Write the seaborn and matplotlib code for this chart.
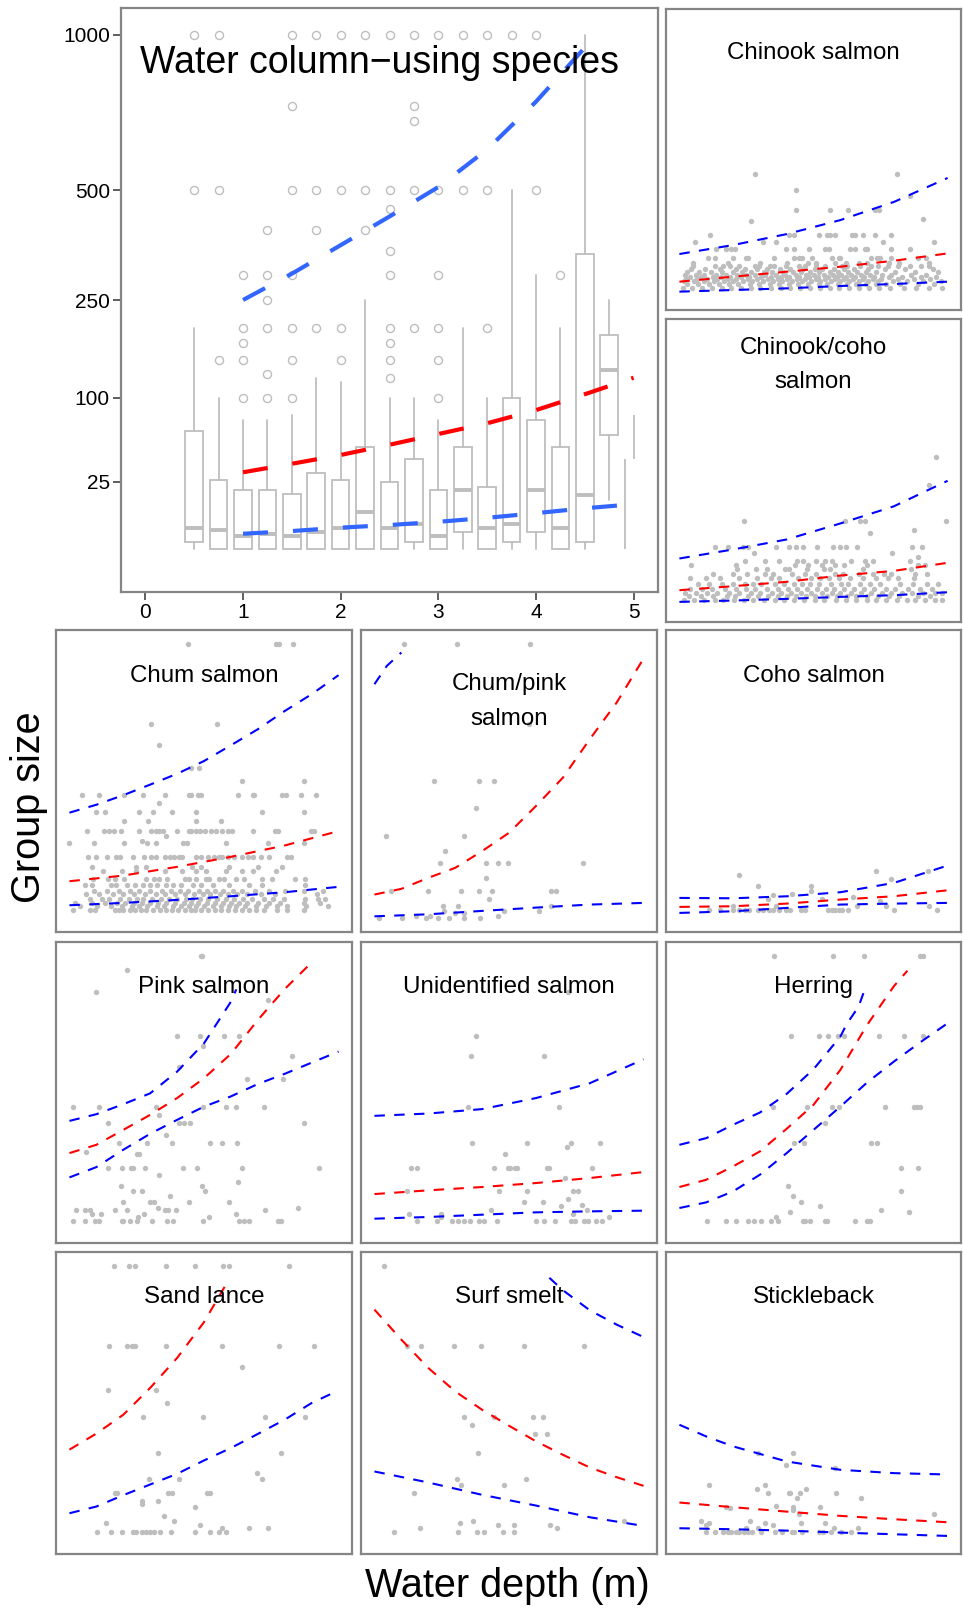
import numpy as np
import pandas as pd
import matplotlib
matplotlib.use("Agg")
import matplotlib.pyplot as plt
import seaborn as sns

# ---------------------------------------------------------------- data
# Pooled box plots (water column-using species), one box per 0.25 m depth bin
box_depth = [0.5, 0.75, 1.0, 1.25, 1.5, 1.75, 2.0, 2.25, 2.5, 2.75,
             3.0, 3.25, 3.5, 3.75, 4.0, 4.25, 4.5, 4.75]
box_low = [1, 1, 1, 1, 1, 1, 1, 1, 1, 1, 1, 1, 1, 1, 1, 1, 1, 15]
box_q1 = [2, 1, 1, 1, 1, 1, 1, 1, 1, 2, 1, 4, 1, 2, 4, 1, 2, 60]
box_med = [5, 4.5, 3, 3.5, 3, 4, 5, 10, 5, 6, 3, 20, 5, 6, 20, 5, 17.5, 135]
box_q3 = [64, 26, 20, 20, 18, 30, 26, 50, 25, 40, 20, 50, 22, 100, 75, 50, 345, 188]
box_high = [200, 100, 75, 75, 80, 125, 120, 250, 100, 100, 75, 200, 100, 500, 300, 200, 1000, 250]
box_out = [
    [500, 1000],
    [150, 500, 1000],
    [100, 150, 175, 200, 300],
    [100, 130, 200, 250, 300, 400],
    [100, 150, 200, 300, 500, 750, 1000],
    [200, 400, 500, 1000],
    [150, 200, 500, 1000],
    [400, 500, 1000],
    [125, 150, 175, 200, 300, 350, 450, 500, 1000],
    [200, 500, 700, 750, 1000],
    [100, 150, 200, 300, 500, 1000],
    [500, 1000],
    [200, 500, 1000],
    [1000],
    [500, 1000],
    [300],
    [],
    [],
]
# Deepest (5 m) bin: only whisker segments are drawn
last_bin_depth = [4.91, 5.0]
last_bin_from = [1, 40]
last_bin_to = [40, 80]

# Pooled model fit and bounds
pooled_hi = ([1, 1.5, 2, 2.5, 3, 3.5, 4, 4.5], [250, 302, 364, 432, 508, 614, 763, 951])
pooled_mid = ([1, 1.5, 2, 2.5, 3, 3.5, 4, 4.5, 5], [30.8, 36.7, 43.3, 51.7, 61.3, 71.7, 85.6, 104, 125])
pooled_lo = ([1, 1.5, 2, 2.5, 3, 3.5, 4, 4.5, 5], [3.57, 4.2, 5.07, 5.8, 6.76, 8.05, 9.7, 11.6, 13.3])

# Species observations: (group size, [water depths])
chinook_pts = [
    (200, [1.40, 4.06]), (150, [2.17]), (135, [4.29]),
    (100, [2.17, 2.81, 3.15, 3.65, 3.72]), (80, [4.55]), (75, [1.34]),
    (50, [0.57, 2.04, 2.14, 2.60, 2.75, 2.81, 2.91, 3.21, 3.28, 3.43, 3.65, 3.95]),
    (40, [0.29, 1.56, 1.80, 3.80, 4.74]),
    (30, [0.69, 0.87, 0.97, 1.03, 1.98, 2.14, 2.41, 2.71, 2.78, 3.18, 3.28, 3.46, 3.49, 3.95, 4.30]),
    (20, [0.54, 0.66, 1.00, 1.24, 1.27, 1.77, 2.14, 2.23, 2.29, 2.48, 2.84, 2.97, 3.00, 3.58, 3.68, 3.74, 3.95, 4.45, 4.60]),
    (15, [0.25, 0.90, 1.50, 2.00, 2.40, 2.55, 2.90, 3.10, 3.35, 3.50, 3.90, 4.10, 4.65]),
    (12, [0.26, 0.66, 0.82, 0.94, 1.12, 1.40, 1.49, 1.68, 1.77, 1.98, 2.23, 2.35, 2.54, 2.72, 3.03, 3.12, 3.37, 3.58, 3.71, 3.89, 4.08, 4.29, 4.51, 4.66]),
    (10, [0.21, 0.48, 0.75, 1.05, 1.22, 1.45, 1.63, 1.88, 2.07, 2.31, 2.52, 2.66, 2.88, 3.07, 3.25, 3.52, 3.84, 4.20, 4.72]),
    (8, [0.15, 0.37, 0.58, 0.80, 0.99, 1.16, 1.33, 1.57, 1.72, 1.93, 2.12, 2.27, 2.43, 2.61, 2.80, 2.95, 3.14, 3.31, 3.47, 3.66, 4.02, 4.40, 4.82]),
    (6, [0.10, 0.31, 0.46, 0.69, 0.86, 1.08, 1.25, 1.41, 1.60, 1.81, 1.97, 2.18, 2.36, 2.50, 2.70, 2.86, 3.02, 3.20, 3.39, 3.55, 3.78, 3.95, 4.32, 4.60]),
    (5, [0.20, 0.40, 0.62, 0.78, 0.95, 1.14, 1.30, 1.52, 1.70, 1.90, 2.05, 2.23, 2.41, 2.58, 2.77, 2.93, 3.10, 3.28, 3.44, 3.62, 3.90, 4.15, 4.50, 4.78]),
    (4, [0.12, 0.33, 0.52, 0.71, 0.90, 1.06, 1.27, 1.44, 1.66, 1.83, 2.01, 2.20, 2.34, 2.55, 2.72, 2.90, 3.06, 3.23, 3.42, 3.60, 3.75, 4.08, 4.38, 4.68]),
    (3, [0.08, 0.27, 0.45, 0.64, 0.83, 1.00, 1.19, 1.36, 1.55, 1.74, 1.92, 2.10, 2.29, 2.46, 2.63, 2.82, 2.99, 3.17, 3.35, 3.52, 3.70, 3.98, 4.25, 4.55, 4.88]),
    (2, [0.15, 0.35, 0.55, 0.74, 0.92, 1.10, 1.31, 1.48, 1.68, 1.86, 2.04, 2.22, 2.40, 2.60, 2.76, 2.95, 3.13, 3.30, 3.48, 3.67, 3.86, 4.12, 4.45, 4.75]),
    (1, [0.06, 0.24, 0.42, 0.60, 0.79, 0.96, 1.15, 1.34, 1.50, 1.70, 1.89, 2.07, 2.25, 2.44, 2.62, 2.80, 2.98, 3.16, 3.34, 3.53, 3.72, 3.92, 4.18, 4.42, 4.65, 4.90]),
]
chinook_depth = [0, 1, 2, 3, 4, 5]
chinook_hi = [23.9, 35.1, 51.7, 77.6, 119, 187]
chinook_mid = [2.86, 5.15, 8.1, 11.7, 16.9, 24.6]
chinook_lo = [0.29, 0.53, 0.85, 1.42, 2.03, 2.86]

chincoho_pts = [
    (300, [4.78]), (200, [4.66]), (100, [1.21, 3.08, 3.37, 3.46, 4.97]),
    (80, [4.38]), (75, [3.55]),
    (50, [0.66, 0.91, 1.18, 1.27, 1.80, 2.04, 2.17, 2.31, 2.57, 2.86, 3.00, 3.11, 3.31, 4.34, 4.53]),
    (40, [1.39, 3.97]), (35, [4.45]),
    (30, [1.23, 1.60, 1.85, 2.20, 2.30, 2.54, 2.72, 2.84, 3.20, 3.46, 3.60, 4.30]),
    (25, [0.22, 1.06, 2.16, 2.40, 2.66, 2.90, 3.06, 3.49, 4.45, 4.57]),
    (20, [1.08, 1.43, 1.64, 1.97, 2.05, 2.37, 2.70, 2.81, 3.43, 4.32]),
    (15, [0.63, 1.00, 1.26, 1.60, 1.75, 2.10, 2.35, 2.55, 2.90, 3.05, 3.35, 3.60, 3.82, 3.95, 4.40, 4.62]),
    (12, [0.20, 0.50, 0.75, 1.12, 1.45, 1.70, 1.86, 2.22, 2.46, 2.63, 2.79, 2.97, 3.18, 3.42, 3.67, 3.88, 4.07, 4.38]),
    (8, [0.35, 0.55, 0.80, 1.00, 1.22, 1.37, 1.52, 1.78, 1.95, 2.13, 2.28, 2.44, 2.60, 2.82, 3.02, 3.15, 3.36, 3.55, 3.74, 4.12, 4.35, 4.62, 4.83]),
    (5, [0.20, 0.42, 0.60, 0.85, 1.06, 1.25, 1.41, 1.63, 1.84, 2.02, 2.20, 2.38, 2.57, 2.74, 2.88, 3.07, 3.25, 3.44, 3.62, 3.86, 4.02, 4.26, 4.48, 4.70]),
    (3, [0.10, 0.30, 0.52, 0.70, 0.93, 1.12, 1.33, 1.50, 1.72, 1.90, 2.08, 2.27, 2.45, 2.66, 2.85, 3.00, 3.20, 3.38, 3.57, 3.77, 3.95, 4.15, 4.33, 4.55, 4.76, 4.90]),
    (2, [0.18, 0.40, 0.62, 0.88, 1.04, 1.28, 1.46, 1.66, 1.83, 2.00, 2.18, 2.36, 2.52, 2.75, 2.93, 3.12, 3.30, 3.50, 3.70, 3.90, 4.10, 4.45, 4.68]),
    (1, [0.08, 0.27, 0.45, 0.66, 0.82, 1.02, 1.20, 1.38, 1.57, 1.78, 1.95, 2.14, 2.33, 2.52, 2.70, 2.92, 3.10, 3.30, 3.50, 3.66, 3.85, 4.05, 4.24, 4.40, 4.58, 4.76, 4.90]),
]
chincoho_depth = [0, 1, 2, 3, 4, 5]
chincoho_hi = [32.6, 45.5, 62.3, 94.7, 137, 214]
chincoho_mid = [4.28, 6.4, 9.2, 14.1, 18.4, 27.2]
chincoho_lo = [0.53, 0.78, 1.15, 1.70, 2.23, 3.38]

chum_pts = [
    (1000, [2.20, 3.83, 3.89, 4.15]), (500, [1.52, 2.75]), (400, [1.67]),
    (300, [2.26, 2.41]), (250, [3.20, 4.35]),
    (200, [0.23, 0.54, 1.01, 1.37, 1.77, 2.22, 2.26, 2.38, 2.44, 3.14, 3.41, 3.43, 3.95, 4.03, 4.31, 4.59]),
    (175, [1.67]),
    (150, [0.50, 0.66, 1.29, 1.55, 1.90, 2.35, 3.57, 4.35]),
    (125, [1.01, 1.46, 2.35, 2.81]),
    (100, [0.33, 0.64, 0.74, 0.83, 0.95, 1.29, 1.51, 1.60, 1.67, 1.74, 2.00, 2.22, 2.26, 2.35, 2.43, 2.52, 2.63, 2.72, 2.83, 2.94, 3.02, 3.41, 3.82, 3.88, 4.48, 4.54]),
    (90, [1.79]), (80, [1.34]),
    (75, [0.00, 0.46, 1.01, 1.44, 1.60, 2.11, 2.18, 2.91, 3.68, 4.35]),
    (50, [0.35, 0.50, 0.70, 0.86, 0.94, 1.18, 1.38, 1.52, 1.61, 1.77, 1.86, 1.95, 2.04, 2.09, 2.35, 2.44, 2.57, 2.68, 2.78, 2.84, 2.94, 3.06, 3.21, 3.32, 3.41, 3.56, 3.71, 4.05, 4.11]),
    (35, [0.41, 1.23, 1.43, 2.28, 2.44, 2.97, 3.51, 3.95]),
    (30, [0.63, 0.97, 1.23, 1.77, 2.09, 2.35, 2.54, 2.91, 3.21, 3.41, 3.83]),
    (20, [0.44, 0.72, 0.84, 1.01, 1.43, 1.58, 1.67, 1.81, 2.14, 2.23, 2.35, 2.54, 2.60, 2.78, 2.87, 3.09, 3.25, 3.58, 3.76, 4.20, 4.38]),
    (15, [0.29, 0.41, 0.78, 0.87, 1.07, 1.21, 1.37, 1.49, 1.63, 1.79, 1.93, 2.08, 2.29, 2.44, 2.66, 2.97, 3.33, 3.58, 4.38]),
    (10, [0.46, 0.70, 0.92, 1.12, 1.30, 1.50, 1.72, 1.88, 2.05, 2.20, 2.40, 2.56, 2.70, 2.86, 3.04, 3.20, 3.45, 3.70, 4.00, 4.35, 4.72]),
    (8, [0.30, 0.55, 0.80, 1.00, 1.20, 1.40, 1.60, 1.78, 1.97, 2.15, 2.32, 2.48, 2.62, 2.80, 2.95, 3.12, 3.30, 3.55, 3.82, 4.60]),
    (5, [0.38, 0.60, 0.74, 0.93, 1.10, 1.25, 1.36, 1.53, 1.70, 1.85, 2.00, 2.17, 2.28, 2.42, 2.58, 2.74, 2.90, 3.06, 3.22, 3.40, 3.62, 3.78, 3.98, 4.38, 4.62, 4.74]),
    (3, [0.10, 0.42, 0.66, 0.88, 1.04, 1.20, 1.34, 1.50, 1.64, 1.80, 1.96, 2.12, 2.26, 2.38, 2.55, 2.70, 2.86, 3.00, 3.15, 3.30, 3.50, 3.70, 3.92, 4.35, 4.66]),
    (2, [0.20, 0.52, 0.78, 0.98, 1.16, 1.30, 1.45, 1.62, 1.76, 1.92, 2.08, 2.22, 2.36, 2.50, 2.66, 2.82, 2.96, 3.10, 3.26, 3.46, 3.66, 3.85, 4.05, 4.40, 4.80]),
    (1, [0.06, 0.38, 0.48, 0.85, 0.92, 1.00, 1.12, 1.22, 1.33, 1.42, 1.56, 1.68, 1.80, 1.90, 2.02, 2.14, 2.25, 2.34, 2.45, 2.58, 2.70, 2.82, 2.94, 3.08, 3.20, 3.34, 3.47, 3.62, 3.85, 4.04, 4.36]),
]
chum_hi = ([0, 0.5, 1, 1.5, 2, 2.5, 3, 3.5, 4, 4.5, 5], [148, 171, 201, 237, 277, 328, 397, 474, 570, 666, 784])
chum_mid = ([0, 1, 2, 3, 4, 5], [18.2, 24.2, 35.1, 50.1, 70.3, 100.8])
chum_lo = ([0, 1, 2, 3, 4, 5], [2.25, 3.13, 4.48, 6.44, 9.0, 13.1])

chumpink_pts = [
    (1000, [0.54, 1.54, 2.89]), (500, [2.88]), (250, [1.11, 1.95, 2.22]),
    (160, [1.89]), (90, [0.21, 1.67]), (60, [1.31]),
    (40, [1.22, 2.08, 2.30, 2.49, 3.88]), (22, [2.08]),
    (10, [0.31, 0.99, 1.61, 1.95, 2.19, 3.28, 3.37]), (5, [2.12]),
    (2, [1.27, 1.55, 3.28]), (0.8, [1.30, 2.41, 3.06]), (0.4, [1.49, 1.67]),
    (0.1, [0.78, 1.03, 2.30]), (0, [0.09, 0.51, 0.95, 1.18, 1.39, 1.66, 1.97]),
]
chumpink_hi = ([0, 0.23, 0.5], [727, 845, 937])
chumpink_mid = ([0, 0.5, 1, 1.5, 2, 2.5, 3, 3.5, 4, 4.5, 5], [7.46, 11.5, 21.7, 33.7, 59.8, 96.9, 167, 262, 425, 617, 895])
chumpink_lo = ([0, 1, 2, 3, 4, 5], [0.05, 0.21, 0.72, 1.51, 2.49, 3.13])

coho_pts = [
    (30, [3.66, 4.63]), (25, [1.11]), (20, [3.94]), (14, [1.46, 2.46]),
    (10, [2.46]), (8, [2.09]), (7, [1.74]), (6, [3.23]), (5, [1.66, 2.66]),
    (4, [3.74]), (2, [1.00, 1.81, 3.32, 3.85, 4.66]),
    (1, [0.55, 0.75, 1.00, 1.11, 1.23, 1.29, 1.46, 1.55, 1.67, 1.74, 1.86, 1.98, 2.07, 2.26, 2.34, 2.77, 2.84, 2.91, 2.97, 3.03, 3.15, 4.00, 4.80]),
]
coho_depth = [0, 1, 2, 3, 4, 5]
coho_hi = [5.5, 5.3, 6.4, 9.0, 16.6, 36.9]
coho_mid = [1.71, 1.92, 2.86, 4.64, 6.44, 10.4]
coho_lo = [0.38, 0.65, 1.42, 2.49, 2.86, 3.13]

pink_pts = [
    (1000, [2.44, 2.47]), (900, [1.07]), (750, [0.50]), (700, [3.68]),
    (500, [2.00, 2.43, 2.88, 3.15]), (450, [2.48]), (400, [4.14]), (350, [2.03]),
    (300, [3.29, 3.97]), (200, [0.07, 0.55, 1.60, 2.48, 2.91, 3.10, 3.61]),
    (175, [1.66]), (150, [0.72, 2.04, 2.12, 2.24, 4.35]), (120, [1.80]),
    (100, [0.92, 1.45, 1.91, 2.62, 2.84, 3.11]), (80, [0.31]), (75, [1.26, 1.29]),
    (50, [0.71, 0.98, 1.14, 1.18, 1.40, 2.11, 2.37, 3.21, 4.63]),
    (40, [1.66]), (30, [3.13]), (25, [0.95, 2.46]), (20, [1.18, 1.35, 2.52]),
    (15, [1.86]), (10, [0.99, 1.49, 1.57, 2.23, 2.96]), (6, [1.64, 4.25]),
    (5, [0.12, 0.29, 0.39, 0.84, 1.06, 1.77, 1.84, 1.98, 3.63]),
    (3, [0.41, 0.58, 1.39, 3.09]), (2, [1.27, 2.59]),
    (1, [0.07, 0.29, 0.47, 0.55, 0.97, 1.00, 1.12, 1.26, 1.54, 1.81, 1.92, 2.49, 3.15, 3.25, 3.33, 3.88, 3.94]),
]
pink_hi = ([0, 0.5, 1, 1.5, 2, 2.5, 3, 3.1], [157, 177, 209, 247, 332, 462, 692, 769])
pink_mid = ([0, 0.5, 1, 1.5, 2, 2.5, 3, 3.5, 4, 4.48], [77.6, 95.4, 132, 175, 230, 305, 411, 585, 771, 944])
pink_lo = ([0, 0.5, 1, 1.5, 2, 2.5, 3, 3.5, 4, 4.5, 5], [36, 51.7, 84.5, 122, 160, 201, 236, 282, 323, 371, 422])

unid_pts = [
    (750, [3.60]), (500, [1.89]), (400, [1.80, 3.15]), (200, [1.74, 3.42]),
    (100, [1.81, 2.83, 3.66, 4.20]), (90, [3.57]), (75, [2.43]),
    (50, [0.68, 0.79, 2.23, 2.48, 2.51, 2.62, 2.65, 3.20, 3.25, 4.05]),
    (35, [3.54]), (20, [0.61, 2.31, 2.84, 3.68, 3.79]), (12, [3.60]),
    (10, [2.78, 3.14]), (8, [3.86]), (7, [3.46]), (5, [2.17, 3.95]),
    (3, [0.65, 1.23, 3.68]), (2, [1.23, 4.35]),
    (1, [0.79, 1.17, 1.45, 1.55, 1.67, 1.77, 1.95, 2.04, 2.28, 3.00, 3.15, 3.35, 3.65, 3.73, 3.89, 3.97, 4.12, 4.23]),
]
unid_depth = [0, 1, 2, 3, 4, 5]
unid_hi = [172, 179, 193, 230, 285, 386]
unid_mid = [16.6, 20.3, 23.9, 28.6, 35.1, 43.8]
unid_lo = [1.51, 2.03, 2.86, 3.85, 4.31, 4.64]

herring_pts = [
    (1000, [1.77, 2.86, 3.45, 4.48, 4.55]),
    (500, [2.08, 2.60, 2.77, 2.96, 3.06, 3.72, 4.19, 4.55]),
    (200, [1.74, 2.38, 2.84, 2.97, 3.83, 4.37, 4.43, 4.48]),
    (150, [2.72]), (100, [2.14, 2.32, 3.58, 3.68]), (50, [4.14, 4.45]),
    (25, [2.03]), (20, [4.14]), (15, [2.12]), (10, [2.27]), (7, [2.62]),
    (5, [3.76]), (4, [2.07, 4.28]), (2, [1.80]),
    (1, [0.52, 0.86, 1.05, 1.27, 1.39, 1.52, 1.71, 1.83, 2.30, 2.35, 2.43, 2.71, 2.75, 3.28, 3.49, 3.55]),
]
herring_hi = ([0, 0.5, 1, 1.5, 2, 2.5, 3, 3.12, 3.34, 3.47], [95.4, 111, 146, 182, 245, 342, 496, 563, 662, 782])
herring_mid = ([0, 0.5, 1, 1.5, 2, 2.5, 3, 3.5, 4, 4.25], [23.9, 32.8, 52.8, 81, 135, 207, 339, 558, 790, 893])
herring_lo = ([0, 0.5, 1, 1.5, 2, 2.5, 3, 3.5, 4, 4.5, 5], [6.06, 9.7, 19.2, 39.8, 77.6, 132, 201, 288, 376, 469, 567])

sand_pts = [
    (1000, [0.83, 1.11, 1.21, 1.80, 2.33, 2.86, 2.97, 4.08]),
    (500, [0.73, 1.06, 1.17, 1.21, 1.79, 2.84, 3.89, 4.55]),
    (400, [3.20]), (300, [0.71, 1.60]), (250, [1.81]),
    (200, [1.37, 2.48, 3.63, 4.37]), (100, [1.65, 3.93]), (60, [3.49]),
    (50, [1.47, 2.04, 3.57]), (30, [0.84, 0.89, 1.84, 1.91, 2.55, 2.62]),
    (20, [1.34, 1.64]), (17, [1.34]), (15, [2.33]), (8, [1.76]), (5, [1.94]),
    (4, [0.68]), (3, [2.43]), (2, [2.83, 3.34, 3.68]),
    (1, [0.52, 0.78, 0.97, 1.18, 1.24, 1.34, 1.43, 1.50, 1.58, 1.69, 1.89, 2.33, 2.62, 2.77, 2.91]),
]
sand_mid = ([0, 0.5, 1, 1.5, 2, 2.5, 2.97], [109, 151, 209, 308, 441, 631, 907])
sand_lo = ([0, 0.5, 1, 1.5, 2, 2.5, 3, 3.5, 4, 4.5, 5], [9.7, 15.1, 27, 41.3, 58.6, 84.5, 113, 150, 193, 250, 298])

smelt_pts = [
    (1000, [0.18]), (500, [0.60, 0.87, 1.47, 1.98, 2.77, 3.90]),
    (200, [1.67, 2.22, 2.95, 3.13]), (175, [1.81]), (150, [2.99, 3.21]),
    (100, [1.92]), (50, [1.54, 2.81]), (40, [1.61, 2.41]), (30, [0.73]),
    (5, [1.83, 4.64]), (4, [1.59]), (3, [2.29, 2.60, 3.26]), (2, [0.84, 3.40]),
    (1, [0.36, 1.55, 1.90, 2.03, 2.38, 2.60]),
]
smelt_hi = ([3.25, 3.5, 4, 4.5, 5], [914, 830, 702, 617, 548])
smelt_mid = ([0, 0.5, 1, 1.5, 2, 2.5, 3, 3.5, 4, 4.5, 5], [706, 534, 394, 294, 226, 174, 130, 97, 70.3, 52.8, 39.3])
smelt_lo = ([0, 1, 2, 3, 4, 5], [62.8, 44.3, 27.4, 16, 7.04, 2.73])

stickle_pts = [
    (100, [1.46, 2.11]), (75, [1.99]), (70, [2.91]), (40, [0.55, 1.59]),
    (35, [1.45, 2.36]), (30, [1.66, 2.04, 2.07, 2.24, 2.92]), (24, [2.19, 3.39]),
    (16, [1.80]), (15, [0.86, 2.11, 2.63]), (14, [0.94]), (12, [2.12]),
    (9, [2.23, 4.74]), (5, [0.41, 1.32]), (4, [0.55, 1.60, 2.26, 2.72]),
    (3, [0.50, 1.75]), (2, [1.24, 1.46, 2.89, 3.33]),
    (1, [0.49, 0.66, 0.81, 0.91, 0.97, 1.05, 1.12, 1.21, 1.27, 1.35, 1.52, 1.78, 1.92, 2.09, 2.14, 2.28, 2.60, 2.68, 2.83, 3.01, 3.20]),
]
stickle_hi = ([0, 0.5, 1, 2, 3, 4, 5], [177, 143, 117, 82.4, 65.9, 59.8, 57.4])
stickle_mid = ([0, 1, 2, 3, 4, 5], [18.9, 14.5, 10.9, 7.9, 5.87, 4.31])
stickle_lo = ([0, 1, 2, 3, 4, 5], [1.92, 1.61, 1.24, 0.78, 0.48, 0.25])

panel_titles = ["Chinook salmon", "Chinook/coho\nsalmon", "Chum salmon",
                "Chum/pink\nsalmon", "Coho salmon", "Pink salmon",
                "Unidentified salmon", "Herring", "Sand lance",
                "Surf smelt", "Stickleback"]
y_ticks = [25, 100, 250, 500, 1000]
x_ticks = [0, 1, 2, 3, 4, 5]

# ---------------------------------------------------------------- style
sns.set_theme(style="white")
plt.rcParams["font.family"] = ["Liberation Sans", "DejaVu Sans"]
plt.rcParams["text.color"] = "black"
plt.rcParams["axes.labelcolor"] = "black"
plt.rcParams["xtick.color"] = "black"
plt.rcParams["ytick.color"] = "black"

GREY_PT = "#BEBEBE"
FRAME = "#858585"
BLUE = "#0000FF"
RED = "#FF0000"
BLUE_POOL = "#3366FF"

W, H = 963, 1611
fig = plt.figure(figsize=(W / 100, H / 100), dpi=100)


def add_axes_px(l, t, r, b):
    return fig.add_axes([l / W, 1 - b / H, (r - l) / W, (b - t) / H])


def sqrt_fwd(v):
    v = np.asarray(v, dtype=float)
    return np.sign(v) * np.sqrt(np.abs(v))


def sqrt_inv(s):
    s = np.asarray(s, dtype=float)
    return np.sign(s) * s ** 2


def style_axes(ax):
    ax.set_facecolor("white")
    ax.set_yscale("function", functions=(sqrt_fwd, sqrt_inv))
    ax.set_xlim(-0.25, 5.25)
    ax.set_ylim(-2.5, 1102.5)
    for sp in ax.spines.values():
        sp.set_color(FRAME)
        sp.set_linewidth(1.6)
        sp.set_visible(True)
    ax.set_xlabel("")
    ax.set_ylabel("")


def points_frame(rows):
    return pd.DataFrame([(d, n) for n, ds in rows for d in ds],
                        columns=["depth", "size"])


def draw_curve(ax, xs, ys, color, lw, dash):
    sns.lineplot(x=list(xs), y=list(ys), ax=ax, color=color, linewidth=lw,
                 linestyle=(0, dash), estimator=None, sort=False,
                 legend=False, zorder=3)


# ---------------------------------------------------------------- pooled panel
ax0 = add_axes_px(121, 8, 658, 592)
style_axes(ax0)
stats = []
for i in range(len(box_depth)):
    stats.append(dict(med=box_med[i], q1=box_q1[i], q3=box_q3[i],
                      whislo=box_low[i], whishi=box_high[i],
                      fliers=box_out[i]))
ax0.bxp(stats, positions=box_depth, widths=0.18, showcaps=False,
        patch_artist=True, manage_ticks=False,
        boxprops=dict(facecolor="white", edgecolor=GREY_PT, linewidth=1.3),
        whiskerprops=dict(color=GREY_PT, linewidth=1.3),
        medianprops=dict(color=GREY_PT, linewidth=2.8),
        flierprops=dict(marker="o", markerfacecolor="none",
                        markeredgecolor=GREY_PT, markersize=5.8,
                        markeredgewidth=1.0))
ax0.vlines(last_bin_depth, last_bin_from, last_bin_to, color=GREY_PT,
           linewidth=1.3)
for (xs, ys), col in [(pooled_hi, BLUE_POOL), (pooled_mid, RED), (pooled_lo, BLUE_POOL)]:
    draw_curve(ax0, xs, ys, col, 3.0, (6, 6))
ax0.set_xticks(x_ticks)
ax0.set_xticklabels([str(t) for t in x_ticks])
ax0.set_yticks(y_ticks)
ax0.set_yticklabels([str(t) for t in y_ticks])
ax0.tick_params(axis="both", which="major", length=6, width=1.1,
                color="#333333", labelsize=15, pad=2, labelcolor="black",
                direction="out", bottom=True, left=True)
ax0.text(0.035, 0.889, "Water column\u2212using species",
         transform=ax0.transAxes, fontsize=27, ha="left", va="baseline",
         color="black")

# ---------------------------------------------------------------- species panels
def grid_curves(depth, hi, mid, lo):
    return [((depth, hi), BLUE), ((depth, mid), RED), ((depth, lo), BLUE)]


panels = [
    (chinook_pts, grid_curves(chinook_depth, chinook_hi, chinook_mid, chinook_lo), (666, 9, 961, 310), [50]),
    (chincoho_pts, grid_curves(chincoho_depth, chincoho_hi, chincoho_mid, chincoho_lo), (666, 319, 961, 622), [34.5, 69.5]),
    (chum_pts, [(chum_hi, BLUE), (chum_mid, RED), (chum_lo, BLUE)], (56, 630, 352, 932), [51.7]),
    (chumpink_pts, [(chumpink_hi, BLUE), (chumpink_mid, RED), (chumpink_lo, BLUE)], (361, 630, 657, 932), [60, 95]),
    (coho_pts, grid_curves(coho_depth, coho_hi, coho_mid, coho_lo), (666, 630, 961, 932), [51.7]),
    (pink_pts, [(pink_hi, BLUE), (pink_mid, RED), (pink_lo, BLUE)], (56, 942, 352, 1243), [50.7]),
    (unid_pts, grid_curves(unid_depth, unid_hi, unid_mid, unid_lo), (361, 942, 657, 1243), [50.7]),
    (herring_pts, [(herring_hi, BLUE), (herring_mid, RED), (herring_lo, BLUE)], (666, 942, 961, 1243), [50.7]),
    (sand_pts, [(sand_mid, RED), (sand_lo, BLUE)], (56, 1252, 352, 1554), [51.3]),
    (smelt_pts, [(smelt_hi, BLUE), (smelt_mid, RED), (smelt_lo, BLUE)], (361, 1252, 657, 1554), [51.3]),
    (stickle_pts, [(stickle_hi, BLUE), (stickle_mid, RED), (stickle_lo, BLUE)], (666, 1252, 961, 1554), [51.3]),
]

for (rows, curves, box, offsets), title in zip(panels, panel_titles):
    ax = add_axes_px(*box)
    style_axes(ax)
    df = points_frame(rows)
    sns.scatterplot(data=df, x="depth", y="size", ax=ax, color=GREY_PT,
                    s=15, linewidth=0, legend=False, zorder=2)
    for (xs, ys), col in curves:
        draw_curve(ax, xs, ys, col, 1.5, (5, 4.5))
    ax.set_xticks([])
    ax.set_yticks([])
    ax.set_xlabel("")
    ax.set_ylabel("")
    hpx = box[3] - box[1]
    for line, off in zip(title.split("\n"), offsets):
        ax.text(0.5, 1 - off / hpx, line, transform=ax.transAxes,
                fontsize=17.4, ha="center", va="baseline", color="black")

# ---------------------------------------------------------------- shared labels
fig.text(29 / W, 1 - 807 / H, "Group size", rotation=90, fontsize=28.5,
         ha="center", va="center", color="black")
fig.text(507 / W, 1 - 1586 / H, "Water depth (m)", fontsize=28.5,
         ha="center", va="center", color="black")

fig.savefig("out.png", dpi=100, facecolor="white")
